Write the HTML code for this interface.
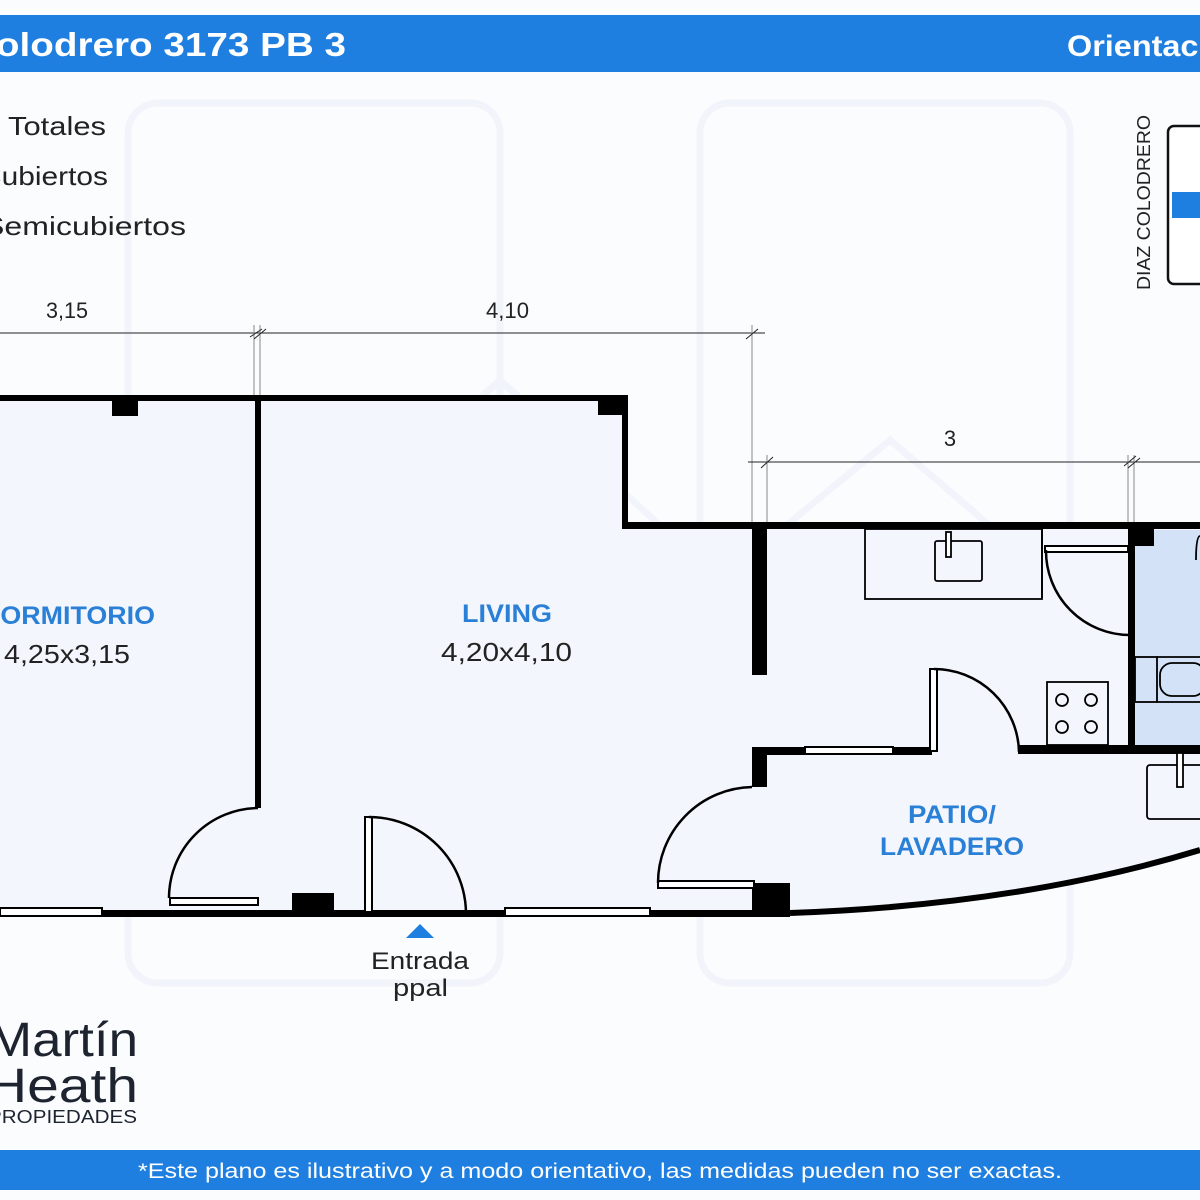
<!DOCTYPE html>
<html><head><meta charset="utf-8"><style>
html,body{margin:0;padding:0;background:#fff;}
svg{display:block;font-family:"Liberation Sans",sans-serif;}
</style></head><body>
<svg width="1200" height="1200" viewBox="0 0 1200 1200">
<rect width="1200" height="1200" fill="#fbfcfe"/>
<!-- faint watermark -->
<g fill="none" stroke="#f1f5fb" stroke-width="7">
<rect x="128" y="103" width="372" height="880" rx="30"/>
<rect x="700" y="103" width="370" height="880" rx="30"/>
<path d="M130 830 L320 650 L520 830 M660 830 L850 650 L1050 830"/>
<path d="M260 600 L500 380 L720 580 L890 440 L1100 620"/>
</g>
<!-- header -->
<rect x="0" y="15" width="1200" height="57" fill="#1f7fe0"/>
<text x="-32" y="56" fill="#fff" font-size="33" font-weight="bold" textLength="378" lengthAdjust="spacingAndGlyphs">Colodrero 3173 PB 3</text>
<text x="1067" y="56" fill="#fff" font-size="30" font-weight="bold" textLength="180" lengthAdjust="spacingAndGlyphs">Orientación</text>
<!-- stats -->
<g font-size="26" fill="#222">
<text x="8" y="135" textLength="98" lengthAdjust="spacingAndGlyphs">Totales</text>
<text x="-20" y="185" textLength="128" lengthAdjust="spacingAndGlyphs">Cubiertos</text>
<text x="-17" y="235" textLength="203" lengthAdjust="spacingAndGlyphs">Semicubiertos</text>
</g>
<!-- orientation -->
<text transform="translate(1150,290) rotate(-90)" font-size="18" fill="#222" textLength="175" lengthAdjust="spacingAndGlyphs">DIAZ COLODRERO</text>
<rect x="1168" y="126" width="50" height="158" rx="6" fill="#fff" stroke="#111" stroke-width="2.5"/>
<rect x="1172" y="192" width="30" height="26" fill="#1f7fe0"/>
<!-- floor fills -->
<path d="M0 401 L622 401 L622 528 L1200 528 L1200 850 Q1020 905 790 913 L0 913 Z" fill="#f3f7fd"/>
<rect x="1133" y="530" width="70" height="216" fill="#d4e2f7"/>
<!-- dimension lines -->
<g stroke="#222" stroke-width="1" fill="none">
<line x1="0" y1="333" x2="765" y2="333"/>
<line x1="254" y1="325" x2="254" y2="396" stroke="#888"/>
<line x1="260" y1="325" x2="260" y2="396" stroke="#888"/>
<line x1="250" y1="337" x2="262" y2="329"/><line x1="254" y1="339" x2="266" y2="329"/>
<line x1="752" y1="325" x2="752" y2="528" stroke="#888"/>
<line x1="746" y1="339" x2="758" y2="329"/>
<line x1="748" y1="462" x2="1200" y2="462"/>
<line x1="767" y1="455" x2="767" y2="528" stroke="#888"/>
<line x1="761" y1="468" x2="773" y2="457"/>
<line x1="1128" y1="455" x2="1128" y2="528" stroke="#888"/>
<line x1="1134" y1="455" x2="1134" y2="528" stroke="#888"/>
<line x1="1124" y1="466" x2="1136" y2="456"/><line x1="1128" y1="468" x2="1140" y2="458"/>
</g>
<text x="46" y="318" font-size="22" fill="#222" textLength="42" lengthAdjust="spacingAndGlyphs">3,15</text>
<text x="486" y="318" font-size="22" fill="#222" textLength="43" lengthAdjust="spacingAndGlyphs">4,10</text>
<text x="950" y="446" text-anchor="middle" font-size="22" fill="#222">3</text>
<!-- walls -->
<g fill="#000">
<rect x="0" y="395" width="628" height="6"/>
<rect x="112" y="395" width="26" height="21"/>
<rect x="598" y="395" width="28" height="20"/>
<rect x="622" y="395" width="6" height="133"/>
<rect x="622" y="522" width="578" height="7"/>
<rect x="255" y="395" width="6" height="413"/>
<rect x="752" y="528" width="15" height="147"/>
<rect x="752" y="750" width="15" height="37"/>
<rect x="752" y="747" width="180" height="8"/>
<rect x="1018" y="745" width="182" height="9"/>
<rect x="1128" y="528" width="7" height="225"/>
<rect x="1128" y="528" width="26" height="18"/>
<rect x="0" y="910" width="790" height="7"/>
<rect x="292" y="893" width="42" height="20"/>
<rect x="752" y="883" width="38" height="32"/>
</g>
<path d="M790 913 Q1020 905 1200 850" fill="none" stroke="#000" stroke-width="6"/>
<!-- windows -->
<g fill="#fff" stroke="#000" stroke-width="2">
<rect x="0" y="908" width="102" height="8"/>
<rect x="505" y="908" width="145" height="8"/>
<rect x="805" y="747" width="88" height="7"/>
<rect x="170" y="898" width="88" height="7"/>
<rect x="658" y="881" width="96" height="7"/>
<rect x="365" y="817" width="7" height="95"/>
<rect x="930" y="669" width="7" height="82"/>
<rect x="1045" y="546" width="83" height="6"/>
</g>
<!-- door arcs -->
<g fill="none" stroke="#000" stroke-width="2.5">
<path d="M169 898 A90 90 0 0 1 258 808"/>
<path d="M369 817 A97 97 0 0 1 466 914"/>
<path d="M658 883 A96 96 0 0 1 752 787"/>
<path d="M934 669 A85 85 0 0 1 1019 752"/>
<path d="M1046 550 A84 84 0 0 0 1130 635"/>
</g>
<!-- fixtures -->
<g fill="none" stroke="#000" stroke-width="1.8">
<rect x="865" y="529" width="177" height="70"/>
<rect x="935" y="541" width="47" height="40" rx="2"/>
<rect x="946" y="532" width="5" height="25" fill="#fff"/>
<line x1="1042" y1="529" x2="1042" y2="598"/>
<rect x="1047" y="682" width="61" height="63"/>
<circle cx="1062" cy="700" r="6"/><circle cx="1091" cy="700" r="6"/>
<circle cx="1062" cy="727" r="6"/><circle cx="1091" cy="727" r="6"/>
<rect x="1135" y="657" width="22" height="45"/>
<path d="M1157 657 L1200 657 M1157 702 L1200 702"/>
<rect x="1160" y="663" width="45" height="33" rx="12"/>
<path d="M1200 536 Q1196 536 1196 560" />
<rect x="1147" y="765" width="60" height="54" rx="3"/>
<rect x="1177" y="753" width="6" height="34" fill="#fff"/>
</g>
<!-- labels -->
<g font-weight="bold" fill="#2a7fd6" font-size="25">
<text x="-19" y="624" textLength="174" lengthAdjust="spacingAndGlyphs">DORMITORIO</text>
<text x="462" y="622" textLength="90" lengthAdjust="spacingAndGlyphs">LIVING</text>
<text x="908" y="823" textLength="88" lengthAdjust="spacingAndGlyphs">PATIO/</text>
<text x="880" y="855" textLength="144" lengthAdjust="spacingAndGlyphs">LAVADERO</text>
</g>
<text x="4" y="663" font-size="26" fill="#222" textLength="126" lengthAdjust="spacingAndGlyphs">4,25x3,15</text>
<text x="441" y="661" font-size="26" fill="#222" textLength="131" lengthAdjust="spacingAndGlyphs">4,20x4,10</text>
<path d="M406 938 L420 924 L434 938 Z" fill="#1f7fe0"/>
<text x="371" y="969" font-size="24" fill="#222" textLength="98" lengthAdjust="spacingAndGlyphs">Entrada</text>
<text x="393" y="996" font-size="24" fill="#222" textLength="55" lengthAdjust="spacingAndGlyphs">ppal</text>
<!-- logo -->
<g fill="#1d2430">
<text x="-12" y="1056" font-size="48" textLength="150" lengthAdjust="spacingAndGlyphs">Martín</text>
<text x="-14" y="1102" font-size="48" textLength="152" lengthAdjust="spacingAndGlyphs">Heath</text>
<text x="-12" y="1123" font-size="18" textLength="149" lengthAdjust="spacingAndGlyphs">PROPIEDADES</text>
</g>
<!-- footer -->
<rect x="0" y="1150" width="1200" height="40" fill="#1f7fe0"/>
<text x="138" y="1178" fill="#fff" font-size="21" textLength="924" lengthAdjust="spacingAndGlyphs">*Este plano es ilustrativo y a modo orientativo, las medidas pueden no ser exactas.</text>
</svg>
</body></html>
